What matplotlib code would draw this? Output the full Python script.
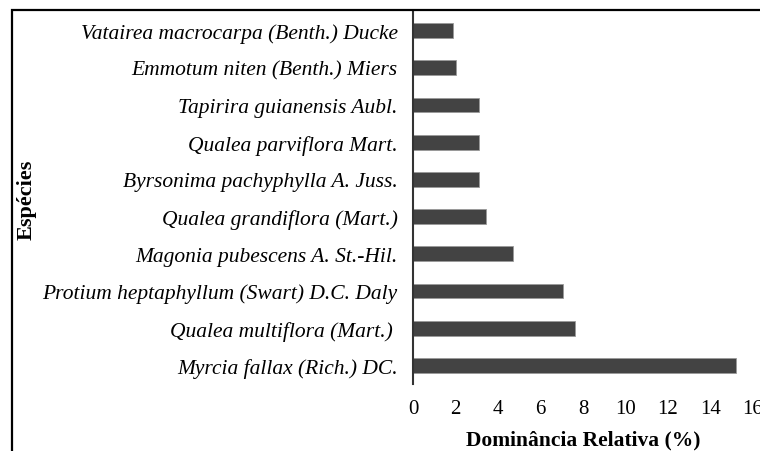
import matplotlib
matplotlib.use("Agg")
import matplotlib.pyplot as plt
from matplotlib.patches import Rectangle

species = [
    "Myrcia fallax (Rich.) DC.",
    "Qualea multiflora (Mart.) ",
    "Protium heptaphyllum (Swart) D.C. Daly",
    "Magonia pubescens A. St.-Hil.",
    "Qualea grandiflora (Mart.)",
    "Byrsonima pachyphylla A. Juss.",
    "Qualea parviflora Mart.",
    "Tapirira guianensis Aubl.",
    "Emmotum niten (Benth.) Miers",
    "Vatairea macrocarpa (Benth.) Ducke",
]
dominancia = [15.2, 7.6, 7.05, 4.7, 3.45, 3.1, 3.1, 3.1, 2.0, 1.9]
xticks = [0, 2, 4, 6, 8, 10, 12, 14, 16]

W, H = 760, 452
fig = plt.figure(figsize=(W / 100, H / 100), dpi=100)
ax = fig.add_axes([413 / W, 1 - 385 / H, (753 - 413) / W, (385 - 13) / H])

ypos = list(range(len(species)))
ax.barh(ypos, dominancia, height=0.4, color="#434343", edgecolor="#9a9a9a", linewidth=0.6)
ax.set_ylim(-0.5, len(species) - 0.5)
ax.set_xlim(0, 16)
ax.set_yticks(ypos)
ax.set_yticklabels(species, fontfamily="Liberation Serif", fontstyle="italic", fontsize=15.5)
ax.set_xticks(xticks)
ax.set_xticklabels([str(t) for t in xticks], fontfamily="Liberation Serif", fontsize=15)
ax.tick_params(axis="y", length=0, pad=11)
ax.tick_params(axis="x", length=0, pad=11)
for s in ["top", "right", "bottom"]:
    ax.spines[s].set_visible(False)
ax.spines["left"].set_color("#333333")
ax.spines["left"].set_linewidth(1.5)

ax.set_xlabel("Dominância Relativa (%)", fontfamily="Liberation Serif", fontweight="bold", fontsize=15.5, labelpad=8)
fig.text(27 / W, 1 - 200 / H, "Espécies", rotation=90, ha="center", va="center",
         fontfamily="Liberation Serif", fontweight="bold", fontsize=16)

fig.patches.append(Rectangle((11.5 / W, -0.1), 1.2, 1.1 - 10.5 / H,
                             transform=fig.transFigure, fill=False,
                             edgecolor="black", linewidth=1.6, figure=fig))

fig.savefig("out.png", dpi=100)
